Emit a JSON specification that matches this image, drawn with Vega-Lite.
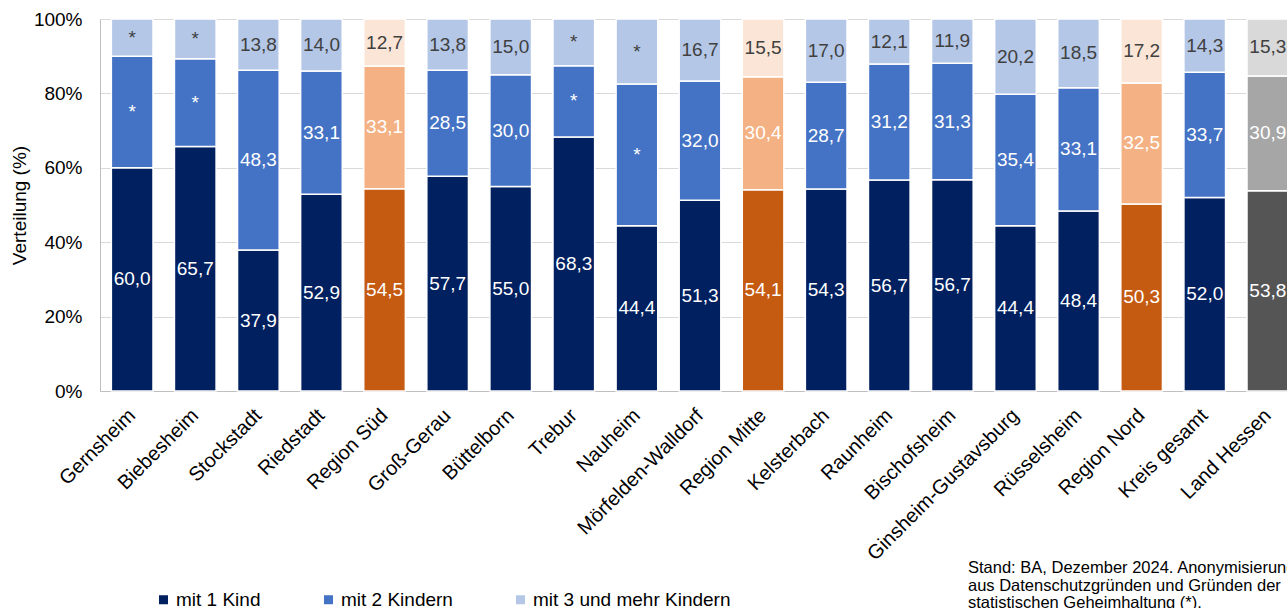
{
  "$schema": "https://vega.github.io/schema/vega-lite/v6.json",
  "width": 1200,
  "height": 372,
  "autosize": {"type": "none"},
  "padding": {"left": 100, "top": 19, "right": 0, "bottom": 217},
  "background": "white",
  "config": {"font": "Liberation Sans", "view": {"stroke": null}},
  "title": {
    "text": ["Stand: BA, Dezember 2024. Anonymisierung", "aus Datenschutzgründen und Gründen der", "statistischen Geheimhaltung (*)."],
    "orient": "bottom", "anchor": "start", "frame": "group", "dx": 868, "offset": -50,
    "fontSize": 16.5, "fontWeight": "normal", "lineHeight": 17.5, "color": "#000000", "baseline": "top"
  },
  "data": {"values": [
    {"Gebiet": "Gernsheim", "Serie": "mit 1 Kind", "Rang": 1, "Anteil": 60.0, "Label": "60,0"},
    {"Gebiet": "Gernsheim", "Serie": "mit 2 Kindern", "Rang": 2, "Anteil": 30.0, "Label": "*"},
    {"Gebiet": "Gernsheim", "Serie": "mit 3 und mehr Kindern", "Rang": 3, "Anteil": 10.0, "Label": "*"},
    {"Gebiet": "Biebesheim", "Serie": "mit 1 Kind", "Rang": 1, "Anteil": 65.7, "Label": "65,7"},
    {"Gebiet": "Biebesheim", "Serie": "mit 2 Kindern", "Rang": 2, "Anteil": 23.6, "Label": "*"},
    {"Gebiet": "Biebesheim", "Serie": "mit 3 und mehr Kindern", "Rang": 3, "Anteil": 10.7, "Label": "*"},
    {"Gebiet": "Stockstadt", "Serie": "mit 1 Kind", "Rang": 1, "Anteil": 37.9, "Label": "37,9"},
    {"Gebiet": "Stockstadt", "Serie": "mit 2 Kindern", "Rang": 2, "Anteil": 48.3, "Label": "48,3"},
    {"Gebiet": "Stockstadt", "Serie": "mit 3 und mehr Kindern", "Rang": 3, "Anteil": 13.8, "Label": "13,8"},
    {"Gebiet": "Riedstadt", "Serie": "mit 1 Kind", "Rang": 1, "Anteil": 52.9, "Label": "52,9"},
    {"Gebiet": "Riedstadt", "Serie": "mit 2 Kindern", "Rang": 2, "Anteil": 33.1, "Label": "33,1"},
    {"Gebiet": "Riedstadt", "Serie": "mit 3 und mehr Kindern", "Rang": 3, "Anteil": 14.0, "Label": "14,0"},
    {"Gebiet": "Region Süd", "Serie": "Region: mit 1 Kind", "Rang": 1, "Anteil": 54.5, "Label": "54,5"},
    {"Gebiet": "Region Süd", "Serie": "Region: mit 2 Kindern", "Rang": 2, "Anteil": 33.1, "Label": "33,1"},
    {"Gebiet": "Region Süd", "Serie": "Region: mit 3 und mehr Kindern", "Rang": 3, "Anteil": 12.7, "Label": "12,7"},
    {"Gebiet": "Groß-Gerau", "Serie": "mit 1 Kind", "Rang": 1, "Anteil": 57.7, "Label": "57,7"},
    {"Gebiet": "Groß-Gerau", "Serie": "mit 2 Kindern", "Rang": 2, "Anteil": 28.5, "Label": "28,5"},
    {"Gebiet": "Groß-Gerau", "Serie": "mit 3 und mehr Kindern", "Rang": 3, "Anteil": 13.8, "Label": "13,8"},
    {"Gebiet": "Büttelborn", "Serie": "mit 1 Kind", "Rang": 1, "Anteil": 55.0, "Label": "55,0"},
    {"Gebiet": "Büttelborn", "Serie": "mit 2 Kindern", "Rang": 2, "Anteil": 30.0, "Label": "30,0"},
    {"Gebiet": "Büttelborn", "Serie": "mit 3 und mehr Kindern", "Rang": 3, "Anteil": 15.0, "Label": "15,0"},
    {"Gebiet": "Trebur", "Serie": "mit 1 Kind", "Rang": 1, "Anteil": 68.3, "Label": "68,3"},
    {"Gebiet": "Trebur", "Serie": "mit 2 Kindern", "Rang": 2, "Anteil": 19.1, "Label": "*"},
    {"Gebiet": "Trebur", "Serie": "mit 3 und mehr Kindern", "Rang": 3, "Anteil": 12.6, "Label": "*"},
    {"Gebiet": "Nauheim", "Serie": "mit 1 Kind", "Rang": 1, "Anteil": 44.4, "Label": "44,4"},
    {"Gebiet": "Nauheim", "Serie": "mit 2 Kindern", "Rang": 2, "Anteil": 38.1, "Label": "*"},
    {"Gebiet": "Nauheim", "Serie": "mit 3 und mehr Kindern", "Rang": 3, "Anteil": 17.5, "Label": "*"},
    {"Gebiet": "Mörfelden-Walldorf", "Serie": "mit 1 Kind", "Rang": 1, "Anteil": 51.3, "Label": "51,3"},
    {"Gebiet": "Mörfelden-Walldorf", "Serie": "mit 2 Kindern", "Rang": 2, "Anteil": 32.0, "Label": "32,0"},
    {"Gebiet": "Mörfelden-Walldorf", "Serie": "mit 3 und mehr Kindern", "Rang": 3, "Anteil": 16.7, "Label": "16,7"},
    {"Gebiet": "Region Mitte", "Serie": "Region: mit 1 Kind", "Rang": 1, "Anteil": 54.1, "Label": "54,1"},
    {"Gebiet": "Region Mitte", "Serie": "Region: mit 2 Kindern", "Rang": 2, "Anteil": 30.4, "Label": "30,4"},
    {"Gebiet": "Region Mitte", "Serie": "Region: mit 3 und mehr Kindern", "Rang": 3, "Anteil": 15.5, "Label": "15,5"},
    {"Gebiet": "Kelsterbach", "Serie": "mit 1 Kind", "Rang": 1, "Anteil": 54.3, "Label": "54,3"},
    {"Gebiet": "Kelsterbach", "Serie": "mit 2 Kindern", "Rang": 2, "Anteil": 28.7, "Label": "28,7"},
    {"Gebiet": "Kelsterbach", "Serie": "mit 3 und mehr Kindern", "Rang": 3, "Anteil": 17.0, "Label": "17,0"},
    {"Gebiet": "Raunheim", "Serie": "mit 1 Kind", "Rang": 1, "Anteil": 56.7, "Label": "56,7"},
    {"Gebiet": "Raunheim", "Serie": "mit 2 Kindern", "Rang": 2, "Anteil": 31.2, "Label": "31,2"},
    {"Gebiet": "Raunheim", "Serie": "mit 3 und mehr Kindern", "Rang": 3, "Anteil": 12.1, "Label": "12,1"},
    {"Gebiet": "Bischofsheim", "Serie": "mit 1 Kind", "Rang": 1, "Anteil": 56.7, "Label": "56,7"},
    {"Gebiet": "Bischofsheim", "Serie": "mit 2 Kindern", "Rang": 2, "Anteil": 31.3, "Label": "31,3"},
    {"Gebiet": "Bischofsheim", "Serie": "mit 3 und mehr Kindern", "Rang": 3, "Anteil": 11.9, "Label": "11,9"},
    {"Gebiet": "Ginsheim-Gustavsburg", "Serie": "mit 1 Kind", "Rang": 1, "Anteil": 44.4, "Label": "44,4"},
    {"Gebiet": "Ginsheim-Gustavsburg", "Serie": "mit 2 Kindern", "Rang": 2, "Anteil": 35.4, "Label": "35,4"},
    {"Gebiet": "Ginsheim-Gustavsburg", "Serie": "mit 3 und mehr Kindern", "Rang": 3, "Anteil": 20.2, "Label": "20,2"},
    {"Gebiet": "Rüsselsheim", "Serie": "mit 1 Kind", "Rang": 1, "Anteil": 48.4, "Label": "48,4"},
    {"Gebiet": "Rüsselsheim", "Serie": "mit 2 Kindern", "Rang": 2, "Anteil": 33.1, "Label": "33,1"},
    {"Gebiet": "Rüsselsheim", "Serie": "mit 3 und mehr Kindern", "Rang": 3, "Anteil": 18.5, "Label": "18,5"},
    {"Gebiet": "Region Nord", "Serie": "Region: mit 1 Kind", "Rang": 1, "Anteil": 50.3, "Label": "50,3"},
    {"Gebiet": "Region Nord", "Serie": "Region: mit 2 Kindern", "Rang": 2, "Anteil": 32.5, "Label": "32,5"},
    {"Gebiet": "Region Nord", "Serie": "Region: mit 3 und mehr Kindern", "Rang": 3, "Anteil": 17.2, "Label": "17,2"},
    {"Gebiet": "Kreis gesamt", "Serie": "mit 1 Kind", "Rang": 1, "Anteil": 52.0, "Label": "52,0"},
    {"Gebiet": "Kreis gesamt", "Serie": "mit 2 Kindern", "Rang": 2, "Anteil": 33.7, "Label": "33,7"},
    {"Gebiet": "Kreis gesamt", "Serie": "mit 3 und mehr Kindern", "Rang": 3, "Anteil": 14.3, "Label": "14,3"},
    {"Gebiet": "Land Hessen", "Serie": "Land: mit 1 Kind", "Rang": 1, "Anteil": 53.8, "Label": "53,8"},
    {"Gebiet": "Land Hessen", "Serie": "Land: mit 2 Kindern", "Rang": 2, "Anteil": 30.9, "Label": "30,9"},
    {"Gebiet": "Land Hessen", "Serie": "Land: mit 3 und mehr Kindern", "Rang": 3, "Anteil": 15.3, "Label": "15,3"}
  ]},
  "encoding": {
    "x": {
      "field": "Gebiet", "type": "nominal", "sort": null, "title": null,
      "scale": {"paddingInner": 0.34, "paddingOuter": 0.18},
      "axis": {"labelAngle": -45, "labelFontSize": 20, "labelColor": "#000000", "labelLimit": 0, "ticks": false, "domainColor": "#bfbfbf", "labelPadding": 14, "labelOffset": -7}
    },
    "y": {
      "field": "Anteil", "type": "quantitative", "stack": "normalize", "title": "Verteilung (%)",
      "scale": {"domain": [0, 1]},
      "axis": {"format": ".0%", "values": [0, 0.2, 0.4, 0.6, 0.8, 1], "labelFontSize": 19, "labelColor": "#000000", "titleFontSize": 19, "titleFontWeight": "normal", "titleColor": "#000000", "ticks": false, "labelPadding": 18, "gridColor": "#d9d9d9", "domainColor": "#bfbfbf", "titlePadding": 4}
    },
    "order": {"field": "Rang", "type": "quantitative"}
  },
  "layer": [
    {
      "mark": {"type": "bar", "stroke": "white", "strokeWidth": 1.5},
      "encoding": {
        "color": {
          "field": "Serie", "type": "nominal",
          "scale": {
            "domain": ["mit 1 Kind", "mit 2 Kindern", "mit 3 und mehr Kindern", "Region: mit 1 Kind", "Region: mit 2 Kindern", "Region: mit 3 und mehr Kindern", "Land: mit 1 Kind", "Land: mit 2 Kindern", "Land: mit 3 und mehr Kindern"],
            "range": ["#002060", "#4472C4", "#B4C7E7", "#C55A11", "#F4B183", "#FBE5D6", "#555555", "#A6A6A6", "#D9D9D9"]
          },
          "legend": {
            "orient": "none", "legendX": 54, "legendY": 571, "direction": "horizontal", "title": null,
            "values": ["mit 1 Kind", "mit 2 Kindern", "mit 3 und mehr Kindern"],
            "symbolType": "square", "symbolSize": 81, "symbolStrokeWidth": 0,
            "labelFontSize": 19, "labelColor": "#000000", "labelLimit": 0, "columnPadding": 58, "labelOffset": 3
          }
        }
      }
    },
    {
      "mark": {"type": "text", "fontSize": 19},
      "encoding": {
        "y": {"field": "Anteil", "type": "quantitative", "stack": "normalize", "bandPosition": 0.5},
        "detail": {"field": "Serie"},
        "text": {"field": "Label"},
        "color": {"condition": {"test": "datum.Rang === 3", "value": "#404040"}, "value": "white"}
      }
    }
  ]
}
